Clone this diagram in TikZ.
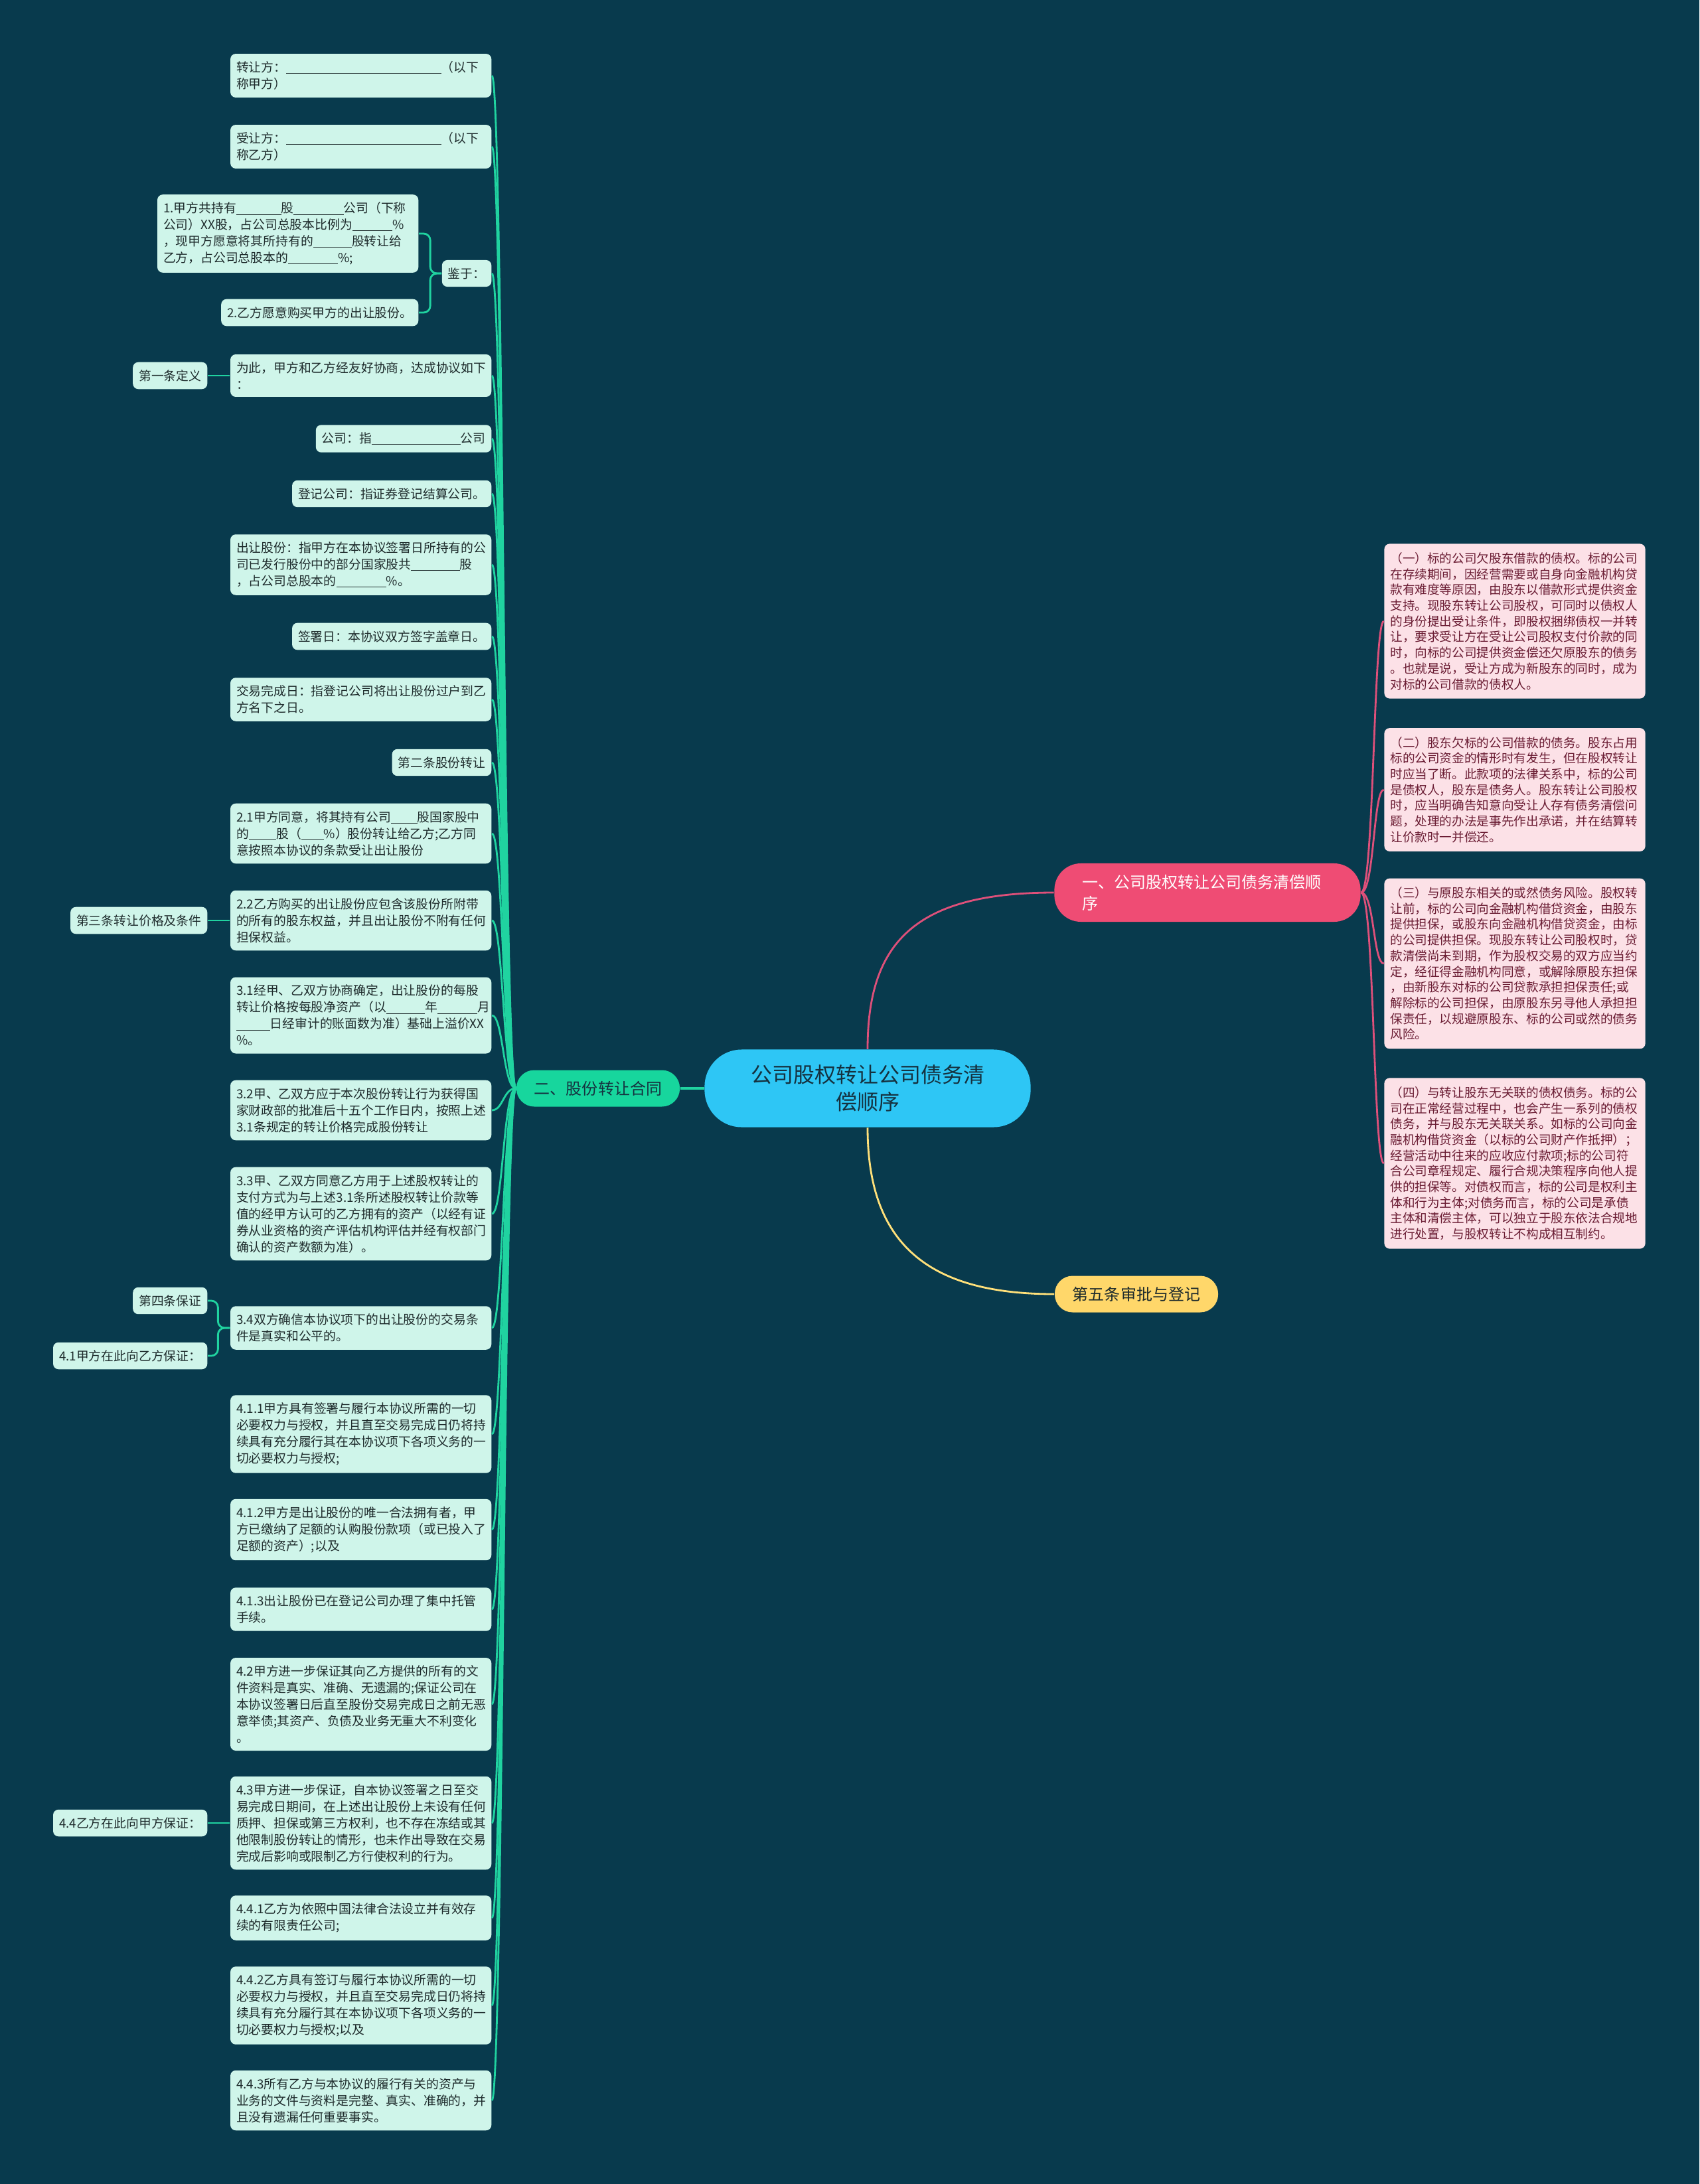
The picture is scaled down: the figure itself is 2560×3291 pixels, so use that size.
\documentclass[tikz,border=0pt]{standalone}
\usepackage{fontspec}
\newfontfamily\cjk{Noto Sans CJK SC}

\definecolor{bg}{HTML}{083A4D}
\definecolor{mint}{HTML}{CFF5EA}
\definecolor{minttext}{HTML}{1E2B2C}
\definecolor{glinecol}{HTML}{20D3A0}
\definecolor{ernode}{HTML}{17D69D}
\definecolor{rootblue}{HTML}{2EC6F5}
\definecolor{roottext}{HTML}{15313F}
\definecolor{pinknode}{HTML}{EF4C74}
\definecolor{plinecol}{HTML}{DE507A}
\definecolor{pinkleaf}{HTML}{FCE1E7}
\definecolor{pinktext}{HTML}{6A1C33}
\definecolor{yellownode}{HTML}{FFD76A}
\definecolor{ylinecol}{HTML}{FFE07A}

\newcommand{\fillin}[1]{\rule[-0.14em]{#1}{0.05em}}

\tikzset{
  leaf/.style={fill=mint, text=minttext, rounded corners=2.3pt, align=left,
    font=\cjk\fontsize{5.35pt}{7.1pt}\selectfont, inner xsep=0.09cm, inner ysep=0.115cm},
  wide/.style={leaf, text width=3.75cm},
  pleaf/.style={fill=pinkleaf, text=pinktext, rounded corners=2.3pt, align=left,
    text width=3.75cm, font=\cjk\fontsize{5.3pt}{6.74pt}\selectfont,
    inner xsep=0.09cm, inner ysep=0.13cm},
  branch/.style={rounded corners=0.27cm, minimum height=0.55cm, inner xsep=0.27cm,
    font=\cjk\fontsize{6.83pt}{9.1pt}\selectfont},
  glink/.style={draw=glinecol, line width=0.8pt},
  plink/.style={draw=plinecol, line width=0.8pt},
  ylink/.style={draw=ylinecol, line width=0.8pt}
}

\begin{document}
\begin{tikzpicture}[x=0.01cm, y=-0.01cm]

  \fill[bg] (0,0) rectangle (2560,3291);

  % Centre and main branches
  \node[fill=rootblue, text=roottext, rounded corners=0.56cm, minimum width=4.91cm,
    minimum height=1.17cm, align=center, font=\cjk\fontsize{9.1pt}{11.7pt}\selectfont]
    (root) at (1307,1640) {公司股权转让公司债务清\\偿顺序};
  \node[branch, fill=pinknode, text=white, rounded corners=0.4cm, minimum height=0.88cm,
    text width=3.77cm, inner xsep=0.42cm, align=left] (yi) at (1819,1345)
    {一、公司股权转让公司债务清偿顺\\序};
  \node[branch, fill=ernode, text=roottext] (er) at (901,1640) {二、股份转让合同};
  \node[branch, fill=yellownode, text=minttext] (wu) at (1712,1950) {第五条审批与登记};

  % Right side leaves
  \node[pleaf] (r1) at (2282,936) {（一）标的公司欠股东借款的债权。标的公司\\在存续期间，因经营需要或自身向金融机构贷\\款有难度等原因，由股东以借款形式提供资金\\支持。现股东转让公司股权，可同时以债权人\\的身份提出受让条件，即股权捆绑债权一并转\\让，要求受让方在受让公司股权支付价款的同\\时，向标的公司提供资金偿还欠原股东的债务\\。也就是说，受让方成为新股东的同时，成为\\对标的公司借款的债权人。};
  \node[pleaf] (r2) at (2282,1190) {（二）股东欠标的公司借款的债务。股东占用\\标的公司资金的情形时有发生，但在股权转让\\时应当了断。此款项的法律关系中，标的公司\\是债权人，股东是债务人。股东转让公司股权\\时，应当明确告知意向受让人存有债务清偿问\\题，处理的办法是事先作出承诺，并在结算转\\让价款时一并偿还。};
  \node[pleaf] (r3) at (2282,1452) {（三）与原股东相关的或然债务风险。股权转\\让前，标的公司向金融机构借贷资金，由股东\\提供担保，或股东向金融机构借贷资金，由标\\的公司提供担保。现股东转让公司股权时，贷\\款清偿尚未到期，作为股权交易的双方应当约\\定，经征得金融机构同意，或解除原股东担保\\，由新股东对标的公司贷款承担担保责任;或\\解除标的公司担保，由原股东另寻他人承担担\\保责任，以规避原股东、标的公司或然的债务\\风险。};
  \node[pleaf] (r4) at (2282,1753) {（四）与转让股东无关联的债权债务。标的公\\司在正常经营过程中，也会产生一系列的债权\\债务，并与股东无关联关系。如标的公司向金\\融机构借贷资金（以标的公司财产作抵押）；\\经营活动中往来的应收应付款项;标的公司符\\合公司章程规定、履行合规决策程序向他人提\\供的担保等。对债权而言，标的公司是权利主\\体和行为主体;对债务而言，标的公司是承债\\主体和清偿主体，可以独立于股东依法合规地\\进行处置，与股权转让不构成相互制约。};

  % Left side leaves
  \node[wide, anchor=east] (zrf) at (741,114) {转让方：\fillin{12.4em}（以下\\称甲方）};
  \node[wide, anchor=east] (srf) at (741,221) {受让方：\fillin{12.4em}（以下\\称乙方）};
  \node[leaf, anchor=east] (jy) at (741,412) {鉴于：};
  \node[wide, anchor=east] (jy1) at (631,352) {1.甲方共持有\fillin{3.6em}股\fillin{4em}公司（下称\\公司）XX股，占公司总股本比例为\fillin{3.2em}\%\\，现甲方愿意将其所持有的\fillin{3.1em}股转让给\\乙方，占公司总股本的\fillin{4em}\%;};
  \node[leaf, anchor=east] (jy2) at (631,471) {2.乙方愿意购买甲方的出让股份。};
  \node[wide, anchor=east] (wc) at (741,566) {为此，甲方和乙方经友好协商，达成协议如下\\：};
  \node[leaf, anchor=east] (def) at (313,566) {第一条定义};
  \node[leaf, anchor=east] (gs) at (741,661) {公司：指\fillin{7.1em}公司};
  \node[leaf, anchor=east] (djgs) at (741,744) {登记公司：指证券登记结算公司。};
  \node[wide, anchor=east] (crgf) at (741,851) {出让股份：指甲方在本协议签署日所持有的公\\司已发行股份中的部分国家股共\fillin{3.9em}股\\，占公司总股本的\fillin{4em}\%。};
  \node[leaf, anchor=east] (qsr) at (741,959) {签署日：本协议双方签字盖章日。};
  \node[wide, anchor=east] (jywc) at (741,1054) {交易完成日：指登记公司将出让股份过户到乙\\方名下之日。};
  \node[leaf, anchor=east] (art2) at (741,1149) {第二条股份转让};
  \node[wide, anchor=east] (s21) at (741,1256) {2.1甲方同意，将其持有公司\fillin{2.1em}股国家股中\\的\fillin{2.2em}股（\fillin{1.8em}\%）股份转让给乙方;乙方同\\意按照本协议的条款受让出让股份};
  \node[wide, anchor=east] (s22) at (741,1387) {2.2乙方购买的出让股份应包含该股份所附带\\的所有的股东权益，并且出让股份不附有任何\\担保权益。};
  \node[leaf, anchor=east] (art3) at (313,1387) {第三条转让价格及条件};
  \node[wide, anchor=east] (s31) at (741,1530) {3.1经甲、乙双方协商确定，出让股份的每股\\转让价格按每股净资产（以\fillin{3.1em}年\fillin{3.2em}月\\\fillin{2.7em}日经审计的账面数为准）基础上溢价XX\\\%。};
  \node[wide, anchor=east] (s32) at (741,1673) {3.2甲、乙双方应于本次股份转让行为获得国\\家财政部的批准后十五个工作日内，按照上述\\3.1条规定的转让价格完成股份转让};
  \node[wide, anchor=east] (s33) at (741,1829) {3.3甲、乙双方同意乙方用于上述股权转让的\\支付方式为与上述3.1条所述股权转让价款等\\值的经甲方认可的乙方拥有的资产（以经有证\\券从业资格的资产评估机构评估并经有权部门\\确认的资产数额为准）。};
  \node[leaf, anchor=east] (art4) at (313,1960) {第四条保证};
  \node[wide, anchor=east] (s34) at (741,2001) {3.4双方确信本协议项下的出让股份的交易条\\件是真实和公平的。};
  \node[leaf, anchor=east] (s41) at (313,2043) {4.1甲方在此向乙方保证：};
  \node[wide, anchor=east] (s411) at (741,2161) {4.1.1甲方具有签署与履行本协议所需的一切\\必要权力与授权，并且直至交易完成日仍将持\\续具有充分履行其在本协议项下各项义务的一\\切必要权力与授权;};
  \node[wide, anchor=east] (s412) at (741,2305) {4.1.2甲方是出让股份的唯一合法拥有者，甲\\方已缴纳了足额的认购股份款项（或已投入了\\足额的资产）;以及};
  \node[wide, anchor=east] (s413) at (741,2425) {4.1.3出让股份已在登记公司办理了集中托管\\手续。};
  \node[wide, anchor=east] (s42) at (741,2568) {4.2甲方进一步保证其向乙方提供的所有的文\\件资料是真实、准确、无遗漏的;保证公司在\\本协议签署日后直至股份交易完成日之前无恶\\意举债;其资产、负债及业务无重大不利变化\\。};
  \node[wide, anchor=east] (s43) at (741,2747) {4.3甲方进一步保证，自本协议签署之日至交\\易完成日期间，在上述出让股份上未设有任何\\质押、担保或第三方权利，也不存在冻结或其\\他限制股份转让的情形，也未作出导致在交易\\完成后影响或限制乙方行使权利的行为。};
  \node[leaf, anchor=east] (s44) at (313,2747) {4.4乙方在此向甲方保证：};
  \node[wide, anchor=east] (s441) at (741,2890) {4.4.1乙方为依照中国法律合法设立并有效存\\续的有限责任公司;};
  \node[wide, anchor=east] (s442) at (741,3022) {4.4.2乙方具有签订与履行本协议所需的一切\\必要权力与授权，并且直至交易完成日仍将持\\续具有充分履行其在本协议项下各项义务的一\\切必要权力与授权;以及};
  \node[wide, anchor=east] (s443) at (741,3165) {4.4.3所有乙方与本协议的履行有关的资产与\\业务的文件与资料是完整、真实、准确的，并\\且没有遗漏任何重要事实。};

  % Main connectors
  \draw[glink, line width=1pt] (root.west) -- (er.east);
  \draw[plink] (root.north) .. controls +(0,-160) and +(-210,0) .. (yi.west);
  \draw[ylink] (root.south) .. controls +(0,175) and +(-190,0) .. (wu.west);

  % Pink bracket
  \foreach \n in {r1,r2,r3,r4}
    \draw[plink] (yi.east) .. controls +(20,0) and +(-16,0) .. (\n.west);

  % Green trunk
  \foreach \n in {zrf,srf,jy,wc,gs,djgs,crgf,qsr,jywc,art2,s21,s22,s31,s32,s33,s34,s411,s412,s413,s42,s43,s441,s442,s443}
    \draw[glink] (er.west) .. controls +(-19,0) and +(17,0) .. (\n.east);

  % Side branches
  \draw[glink, rounded corners=0.1cm] (jy.west) -- ++(-17,0) |- (jy1.east);
  \draw[glink, rounded corners=0.1cm] (jy.west) -- ++(-17,0) |- (jy2.east);
  \draw[glink] (wc.west) -- (def.east);
  \draw[glink] (s22.west) -- (art3.east);
  \draw[glink, rounded corners=0.1cm] (s34.west) -- ++(-18,0) |- (art4.east);
  \draw[glink, rounded corners=0.1cm] (s34.west) -- ++(-18,0) |- (s41.east);
  \draw[glink] (s43.west) -- (s44.east);

\end{tikzpicture}
\end{document}
